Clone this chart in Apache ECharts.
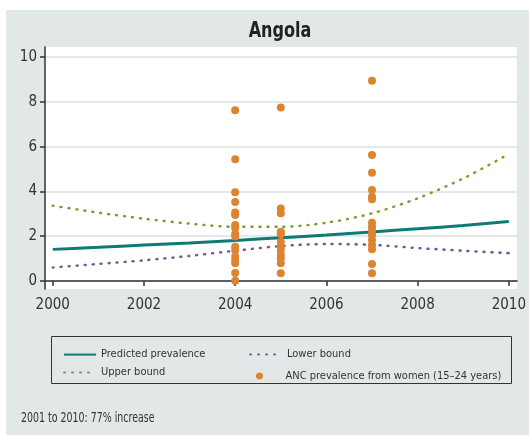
<!DOCTYPE html>
<html>
<head>
<meta charset="utf-8">
<script src="https://cdn.jsdelivr.net/npm/echarts@6/dist/echarts.min.js"></script>
<style>
  html, body { margin: 0; padding: 0; background: #fff; }
  #chart { width: 529px; height: 435px; }
</style>
</head>
<body>
<div id="chart"></div>
<script>
// years for the fitted curves
var years = [2000, 2001, 2002, 2003, 2004, 2005, 2006, 2007, 2008, 2009, 2010];
var predicted = [1.41, 1.50, 1.60, 1.70, 1.81, 1.93, 2.05, 2.19, 2.33, 2.48, 2.65];
var upperBound = [3.36, 3.05, 2.78, 2.56, 2.42, 2.42, 2.60, 3.02, 3.69, 4.58, 5.67];
var lowerBound = [0.60, 0.76, 0.92, 1.12, 1.35, 1.56, 1.65, 1.61, 1.47, 1.35, 1.24];

// ANC survey sites (15-24 years)
var anc2004 = [7.63, 5.44, 3.96, 3.53, 3.06, 2.95, 2.5, 2.37, 2.1, 1.98, 1.53, 1.38, 1.09, 0.9, 0.79, 0.35, 0.01];
var anc2005 = [7.75, 3.24, 3.02, 2.2, 2.1, 1.75, 1.53, 1.38, 1.16, 1.01, 0.79, 0.34];
var anc2007 = [8.94, 5.63, 4.83, 4.06, 3.76, 3.65, 2.6, 2.42, 2.25, 2.05, 1.83, 1.61, 1.42, 0.76, 0.34];

var xTicks = [2000, 2002, 2004, 2006, 2008, 2010];
var yTicks = [0, 2, 4, 6, 8, 10];

var FONT = '"Liberation Sans Narrow", "DejaVu Sans Condensed", Roboto, sans-serif';
var TXT = '#333';

function pairs(xs, ys) {
  return xs.map(function (x, i) { return [x, ys[i]]; });
}
var ancPoints = []
  .concat(anc2004.map(function (v) { return [2004, v]; }))
  .concat(anc2005.map(function (v) { return [2005, v]; }))
  .concat(anc2007.map(function (v) { return [2007, v]; }));

var chart = echarts.init(document.getElementById('chart'));
var legendText = { fontFamily: FONT, fontSize: 11, color: TXT };
var hideSym = { opacity: 0 };

var option = {
  backgroundColor: '#e2e8e8',
  animation: false,
  graphic: [
    // white margin on top / left
    { type: 'rect', shape: { x: 0, y: 0, width: 529, height: 10 }, style: { fill: '#fff' } },
    { type: 'rect', shape: { x: 0, y: 0, width: 6, height: 435 }, style: { fill: '#fff' } },
    {
      type: 'text', x: 280, y: 32, scaleX: 0.85,
      style: { text: 'Angola', font: 'bold 21px ' + FONT, fill: '#222', textAlign: 'center', textVerticalAlign: 'middle' }
    },
    // legend frame
    { type: 'rect', shape: { x: 51.5, y: 336.5, width: 460, height: 47 }, style: { fill: 'none', stroke: '#333', lineWidth: 1 } },
    {
      type: 'text', x: 21, y: 418, scaleX: 0.75,
      style: { text: '2001 to 2010: 77% increase', font: '14px ' + FONT, fill: TXT, textVerticalAlign: 'middle' }
    }
  ],
  legend: [
    { data: ['Predicted prevalence'], left: 58, top: 344, itemWidth: 32, itemHeight: 14, itemStyle: hideSym, textStyle: legendText },
    { data: ['Upper bound'], left: 58, top: 362, itemWidth: 32, itemHeight: 14, itemStyle: hideSym, textStyle: legendText },
    { data: ['Lower bound'], left: 244, top: 344, itemWidth: 32, itemHeight: 14, itemStyle: hideSym, textStyle: legendText },
    {
      data: ['ANC prevalence from women (15\u201324 years)'], left: 251, top: 365.5, itemWidth: 32, itemHeight: 7,
      textStyle: Object.assign({ padding: [0, 0, 0, 5] }, legendText)
    }
  ],
  grid: {
    left: 45, right: 9, top: 47, bottom: 146,
    show: true, backgroundColor: '#fff', borderWidth: 0
  },
  xAxis: {
    type: 'value',
    min: 1999.83, max: 2010.18,
    axisLine: { show: true, lineStyle: { color: '#333', width: 1.5 } },
    axisTick: { show: true, length: 5, customValues: xTicks, lineStyle: { color: '#333', width: 1.5 } },
    axisLabel: {
      customValues: xTicks, margin: 9,
      formatter: function (v) { return String(v); },
      fontFamily: FONT, fontSize: 15, color: TXT
    },
    splitLine: { show: false }
  },
  yAxis: {
    type: 'value',
    min: -0.36, max: 10.45,
    axisLine: { show: true, lineStyle: { color: '#333', width: 1.5 } },
    axisTick: { show: true, length: 5, customValues: yTicks, lineStyle: { color: '#333', width: 1.5 } },
    axisLabel: {
      customValues: yTicks, margin: 8,
      fontFamily: FONT, fontSize: 15, color: TXT
    },
    splitLine: { show: true, lineStyle: { color: '#e3e8e8', width: 2 } }
  },
  series: [
    {
      name: 'Predicted prevalence', type: 'line', data: pairs(years, predicted),
      smooth: 0.3, symbol: 'none', color: '#0f7a75',
      lineStyle: { width: 3, color: '#0f7a75' }, z: 3
    },
    {
      name: 'Upper bound', type: 'line', data: pairs(years, upperBound),
      smooth: 0.3, symbol: 'none', color: '#7b9e38',
      lineStyle: { width: 2.5, color: '#7b9e38', type: [1, 7], cap: 'round' }, z: 2
    },
    {
      name: 'Lower bound', type: 'line', data: pairs(years, lowerBound),
      smooth: 0.3, symbol: 'none', color: '#7a5991',
      lineStyle: { width: 2.5, color: '#7a5991', type: [1, 7], cap: 'round' }, z: 2
    },
    {
      name: 'ANC prevalence from women (15\u201324 years)', type: 'scatter', data: ancPoints,
      symbol: 'circle', symbolSize: 8, itemStyle: { color: '#dc8430', opacity: 1 }, z: 4
    }
  ]
};
chart.setOption(option);
</script>
</body>
</html>
